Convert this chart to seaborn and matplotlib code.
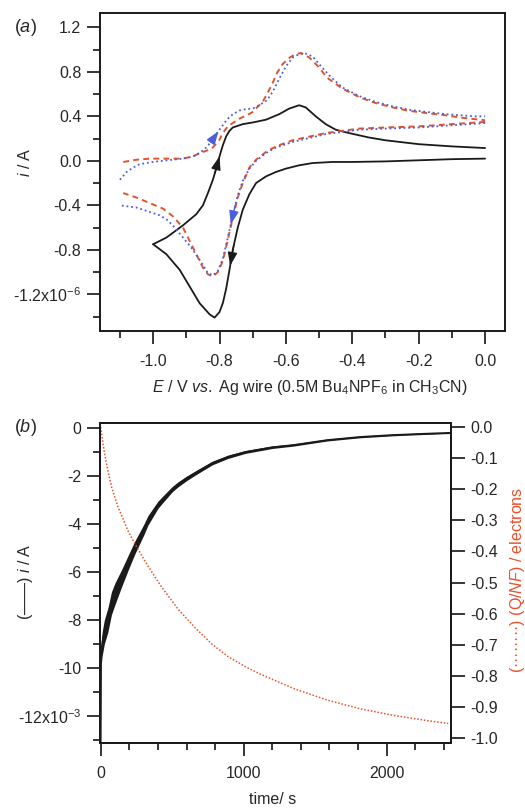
import numpy as np
import matplotlib
matplotlib.use("Agg")
import matplotlib.pyplot as plt
import seaborn as sns
from matplotlib.ticker import MultipleLocator

# ---------------- (a) cyclic voltammograms: E in V, i in units of 1e-6 A
black_fwd_E = [0.0, -0.1, -0.2, -0.3, -0.4, -0.46, -0.52, -0.56, -0.6, -0.63, -0.66, -0.69, -0.71,
               -0.73, -0.745, -0.76, -0.77, -0.78, -0.79, -0.80, -0.815, -0.83, -0.86, -0.89, -0.92,
               -0.96, -1.0]
black_fwd_i = [0.02, 0.015, 0.005, -0.005, -0.01, -0.01, -0.02, -0.04, -0.07, -0.1, -0.14, -0.2, -0.3,
               -0.44, -0.6, -0.8, -0.98, -1.15, -1.28, -1.36, -1.41, -1.38, -1.28, -1.13, -0.98,
               -0.84, -0.75]
black_rev_E = [-1.0, -0.96, -0.91, -0.87, -0.85, -0.835, -0.82, -0.81, -0.80, -0.79, -0.78, -0.77,
               -0.76, -0.73, -0.70, -0.66, -0.62, -0.59, -0.56, -0.54, -0.51, -0.48, -0.45, -0.41,
               -0.35, -0.3, -0.2, -0.1, 0.0]
black_rev_i = [-0.75, -0.69, -0.58, -0.48, -0.40, -0.29, -0.17, -0.07, 0.04, 0.14, 0.22, 0.27,
               0.30, 0.33, 0.345, 0.37, 0.42, 0.47, 0.50, 0.48, 0.40, 0.33, 0.28, 0.25,
               0.21, 0.185, 0.15, 0.13, 0.115]

red_fwd_E = [0.0, -0.1, -0.2, -0.3, -0.38, -0.48, -0.58, -0.63, -0.66, -0.69, -0.71, -0.73, -0.745,
             -0.76, -0.775, -0.79, -0.805, -0.82, -0.835, -0.85, -0.88, -0.91, -0.94, -0.97, -1.01,
             -1.05, -1.09]
red_fwd_i = [0.35, 0.33, 0.31, 0.30, 0.29, 0.25, 0.185, 0.13, 0.08, 0.01, -0.06, -0.2, -0.33,
             -0.51, -0.71, -0.90, -1.0, -1.04, -1.02, -0.96, -0.78, -0.60, -0.50, -0.43, -0.38,
             -0.33, -0.29]
red_rev_E = [-1.09, -1.05, -1.01, -0.96, -0.91, -0.88, -0.86, -0.84, -0.82, -0.80, -0.79, -0.775,
             -0.76, -0.74, -0.717, -0.70, -0.687, -0.67, -0.657, -0.64, -0.627, -0.61, -0.588,
             -0.57, -0.555, -0.53, -0.5, -0.477, -0.43, -0.377, -0.33, -0.278, -0.23, -0.176,
             -0.12, -0.077, -0.03, 0.0]
red_rev_i = [-0.01, 0.01, 0.02, 0.02, 0.02, 0.04, 0.07, 0.09, 0.12, 0.19, 0.25, 0.31,
             0.34, 0.38, 0.41, 0.44, 0.48, 0.53, 0.60, 0.70, 0.79, 0.87, 0.93,
             0.96, 0.97, 0.93, 0.84, 0.75, 0.65, 0.57, 0.52, 0.48, 0.45, 0.43,
             0.41, 0.39, 0.375, 0.365]

blue_fwd_E = [0.0, -0.1, -0.2, -0.3, -0.38, -0.48, -0.58, -0.63, -0.66, -0.69, -0.71, -0.73, -0.745,
              -0.76, -0.775, -0.79, -0.805, -0.82, -0.835, -0.86, -0.885, -0.91, -0.935, -0.958,
              -0.98, -1.01, -1.05, -1.1]
blue_fwd_i = [0.34, 0.32, 0.30, 0.29, 0.28, 0.24, 0.17, 0.12, 0.07, 0.0, -0.07, -0.18, -0.31,
              -0.49, -0.69, -0.88, -0.99, -1.03, -1.01, -0.89, -0.78, -0.69, -0.60, -0.53,
              -0.49, -0.46, -0.42, -0.40]
blue_rev_E = [-1.1, -1.08, -1.06, -1.04, -1.0, -0.958, -0.91, -0.88, -0.86, -0.84, -0.82, -0.80,
              -0.778, -0.76, -0.738, -0.72, -0.70, -0.68, -0.657, -0.64, -0.618, -0.6, -0.579,
              -0.56, -0.545, -0.52, -0.5, -0.47, -0.43, -0.377, -0.33, -0.278, -0.23, -0.176,
              -0.12, -0.077, -0.03, 0.0]
blue_rev_i = [-0.17, -0.10, -0.06, -0.03, -0.01, 0.005, 0.02, 0.04, 0.07, 0.12, 0.19, 0.28,
              0.37, 0.42, 0.455, 0.465, 0.47, 0.50, 0.545, 0.62, 0.75, 0.85, 0.93,
              0.96, 0.97, 0.94, 0.87, 0.77, 0.66, 0.58, 0.53, 0.49, 0.46, 0.44,
              0.42, 0.41, 0.40, 0.40]

# scan-direction arrows: (branch, E of the tip, E of the tail)
arrow_specs = [("black_fwd", -0.768, -0.757), ("black_rev", -0.800, -0.814),
               ("blue_fwd", -0.766, -0.752), ("blue_rev", -0.803, -0.826)]

cv_yticks = [1.2, 0.8, 0.4, 0.0, -0.4, -0.8, -1.2]
cv_ylabels = ["1.2", "0.8", "0.4", "0.0", "-0.4", "-0.8", "-1.2x10$^{-6}$"]
cv_xticks = [-1.0, -0.8, -0.6, -0.4, -0.2, 0.0]
cv_xlabels = ["-1.0", "-0.8", "-0.6", "-0.4", "-0.2", "0.0"]

# ---------------- (b) bulk electrolysis: t in s, i in units of 1e-3 A
ce_t = [0, 3, 10, 25, 50, 75, 100, 150, 200, 240, 300, 330, 400, 430, 500, 540, 600, 660, 780,
        890, 1010, 1200, 1345, 1585, 1815, 2045, 2250, 2440]
ce_i = [-13.1, -9.4, -9.0, -8.5, -8.0, -7.3, -6.9, -6.2, -5.5, -4.96, -4.25, -3.85, -3.2, -3.0,
        -2.55, -2.35, -2.1, -1.88, -1.46, -1.2, -1.0, -0.8, -0.71, -0.5, -0.37, -0.29, -0.24, -0.2]
# half-width of the current noise band
ce_noise_t = [0, 3, 50, 100, 150, 200, 300, 400, 500, 700, 1000, 1500, 2440]
ce_noise_w = [0.1, 0.5, 0.5, 0.45, 0.35, 0.3, 0.22, 0.15, 0.11, 0.08, 0.06, 0.04, 0.03]

q_t = [0, 10, 25, 50, 77, 119, 189, 238, 308, 357, 427, 540, 659, 778, 890, 1009, 1114, 1219,
       1345, 1584, 1815, 2046, 2284, 2430]
q_val = [0, -0.035, -0.08, -0.14, -0.195, -0.255, -0.332, -0.375, -0.43, -0.466, -0.515, -0.585,
         -0.645, -0.698, -0.738, -0.77, -0.794, -0.815, -0.84, -0.878, -0.906, -0.927, -0.944,
         -0.953]

ce_yticks = [0, -2, -4, -6, -8, -10, -12]
ce_ylabels = ["0", "-2", "-4", "-6", "-8", "-10", "-12x10$^{-3}$"]
q_yticks = [0.0, -0.1, -0.2, -0.3, -0.4, -0.5, -0.6, -0.7, -0.8, -0.9, -1.0]
ce_xticks = [0, 1000, 2000]

# ---------------- style
sns.set_style("ticks")
plt.rcParams["font.family"] = ["Liberation Sans", "DejaVu Sans"]
plt.rcParams.update({
    "mathtext.fontset": "custom",
    "mathtext.rm": "Liberation Sans",
    "mathtext.it": "Liberation Sans:italic",
    "mathtext.bf": "Liberation Sans:bold",
    "axes.unicode_minus": False,
    "axes.linewidth": 1.4,
    "xtick.direction": "out",
    "ytick.direction": "out",
    "xtick.major.size": 9.5,
    "ytick.major.size": 9.5,
    "xtick.minor.size": 5,
    "ytick.minor.size": 5,
    "xtick.major.width": 1.3,
    "ytick.major.width": 1.3,
    "xtick.minor.width": 1.3,
    "ytick.minor.width": 1.3,
    "xtick.major.pad": 7,
    "ytick.major.pad": 4,
    "font.size": 11.5,
})

BLACK = "#1a1a1a"
RED = "#e2532c"
BLUE = "#4d5fd6"
LABEL_RED = "#e8502a"
FS = 11.5

fig = plt.figure(figsize=(5.25, 8.1), dpi=100)
ax_a = fig.add_axes([0.1905, 0.5914, 0.7714, 0.3926])
ax_b = fig.add_axes([0.1905, 0.0827, 0.6686, 0.3951])

# ---------------- panel (a)
branches = {
    "black_fwd": (black_fwd_E, black_fwd_i, BLACK, "-", 1.3),
    "black_rev": (black_rev_E, black_rev_i, BLACK, "-", 1.3),
    "red_fwd": (red_fwd_E, red_fwd_i, RED, (0, (3.0, 2.2)), 1.4),
    "red_rev": (red_rev_E, red_rev_i, RED, (0, (3.0, 2.2)), 1.4),
    "blue_fwd": (blue_fwd_E, blue_fwd_i, BLUE, (0, (1.0, 1.6)), 1.3),
    "blue_rev": (blue_rev_E, blue_rev_i, BLUE, (0, (1.0, 1.6)), 1.3),
}
for key in ["black_fwd", "black_rev", "red_fwd", "red_rev", "blue_fwd", "blue_rev"]:
    E, i, col, ls, lw = branches[key]
    sns.lineplot(x=E, y=i, ax=ax_a, sort=False, estimator=None, color=col,
                 linestyle=ls, linewidth=lw)


def on_branch(key, e):
    E, i = np.asarray(branches[key][0]), np.asarray(branches[key][1])
    order = np.argsort(E)
    return e, float(np.interp(e, E[order], i[order]))


for key, e_tip, e_tail in arrow_specs:
    col = branches[key][2]
    ax_a.annotate("", xy=on_branch(key, e_tip), xytext=on_branch(key, e_tail),
                  arrowprops=dict(arrowstyle="-|>,head_length=0.7,head_width=0.25",
                                  color=col, lw=1.0, shrinkA=0, shrinkB=0))

ax_a.set_xlim(-1.16, 0.06)
ax_a.set_ylim(-1.53, 1.33)
ax_a.set_xticks(cv_xticks)
ax_a.set_xticklabels(cv_xlabels, fontsize=FS)
ax_a.set_yticks(cv_yticks)
ax_a.set_yticklabels(cv_ylabels, fontsize=FS)
ax_a.xaxis.set_minor_locator(MultipleLocator(0.1))
ax_a.yaxis.set_minor_locator(MultipleLocator(0.2))
ax_a.set_xlabel("")
ax_a.set_ylabel("")
for s in ax_a.spines.values():
    s.set_color(BLACK)

# ---------------- panel (b)
t_dense = np.asarray(ce_t, dtype=float)
w_dense = np.interp(t_dense, ce_noise_t, ce_noise_w)
ax_b.fill_between(t_dense, np.asarray(ce_i) - w_dense, np.asarray(ce_i) + w_dense,
                  color=BLACK, linewidth=0)
sns.lineplot(x=ce_t, y=ce_i, ax=ax_b, sort=False, estimator=None, color=BLACK, linewidth=1.2)

ax_b.set_xlim(-5, 2450)
ax_b.set_ylim(-13.125, 0.21)
ax_b.set_xticks(ce_xticks)
ax_b.set_xticklabels([str(v) for v in ce_xticks], fontsize=FS)
ax_b.set_yticks(ce_yticks)
ax_b.set_yticklabels(ce_ylabels, fontsize=FS)
ax_b.xaxis.set_minor_locator(MultipleLocator(200))
ax_b.yaxis.set_minor_locator(MultipleLocator(1))
ax_b.set_xlabel("")
ax_b.set_ylabel("")

ax_q = ax_b.twinx()
sns.lineplot(x=q_t, y=q_val, ax=ax_q, sort=False, estimator=None, color=RED,
             linestyle=(0, (1.0, 1.2)), linewidth=1.1)
ax_q.set_ylim(-1.016, 0.013)
ax_q.set_yticks(q_yticks)
ax_q.set_yticklabels([f"{v:.1f}" for v in q_yticks], fontsize=FS)
ax_q.tick_params(axis="y", which="major", length=10, width=1.3, pad=4)
ax_q.set_ylabel("")
for a in (ax_b, ax_q):
    for s in a.spines.values():
        s.set_color(BLACK)
        s.set_linewidth(1.4)

# ---------------- labels
fig.text(0.048, 0.966, "($\\it{a}$)", fontsize=13, ha="center", va="center")
fig.text(0.048, 0.472, "($\\it{b}$)", fontsize=13, ha="center", va="center")
fig.text(0.048, 0.80, "$\\it{i}$ / A", fontsize=FS, rotation=90, ha="center", va="center")
fig.text(0.59, 0.522,
         "$\\it{E}$ / V $\\it{vs.}$ Ag wire (0.5M Bu$_4$NPF$_6$ in CH$_3$CN)",
         fontsize=FS, ha="center", va="center")
fig.text(0.048, 0.282, "(\u2014\u2014) $\\it{i}$ / A", fontsize=FS, rotation=90,
         ha="center", va="center")
fig.text(0.985, 0.284, "(\u00b7\u00b7\u00b7\u00b7\u00b7\u00b7\u00b7\u00b7) (Q/$\\it{NF}$) / electrons",
         fontsize=FS, rotation=90, ha="center", va="center", color=LABEL_RED)
fig.text(0.52, 0.013, "time/ s", fontsize=FS, ha="center", va="center")

fig.savefig("out.png", dpi=100)
